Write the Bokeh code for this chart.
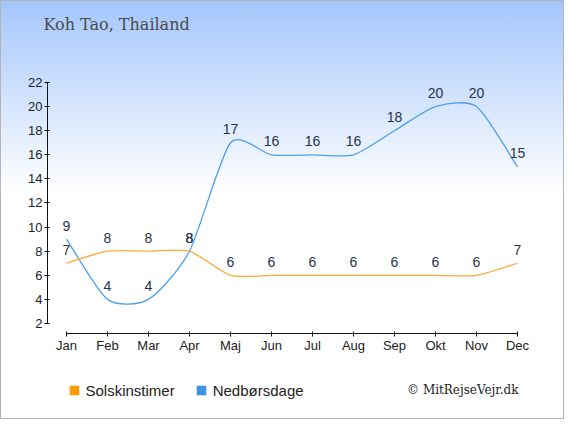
from bokeh.plotting import figure
from bokeh.models import FixedTicker, Label, Legend, LegendItem, ColumnDataSource
from bokeh.core.properties import value
from bokeh.embed import file_html
from bokeh.resources import INLINE

# ---- data ----
months = ["Jan", "Feb", "Mar", "Apr", "Maj", "Jun", "Jul", "Aug", "Sep", "Okt", "Nov", "Dec"]
sun_hours = [7, 8, 8, 8, 6, 6, 6, 6, 6, 6, 6, 7]
rain_days = [9, 4, 4, 8, 17, 16, 16, 16, 18, 20, 20, 15]
y_ticks = [2, 4, 6, 8, 10, 12, 14, 16, 18, 20, 22]
title_text = "Koh Tao, Thailand"
series_names = ["Solskinstimer", "Nedbørsdage"]
credit_text = "© MitRejseVejr.dk"

# ---- styles ----
SUN_LINE = "#ffa92e"
RAIN_LINE = "#4a9ff0"
SUN_BOX = "#ff9c00"
RAIN_BOX = "#3a95e6"
LABEL_COLOR = "#27334d"
SANS = "Liberation Sans"
SERIF = "DejaVu Serif"

xs = list(range(len(months)))

# frame covers the whole canvas; axes are pinned inside it
X0, X1 = -1.6098, 12.1463
Y0, Y1 = -5.967, 28.805
p = figure(width=564, height=419, output_backend="svg", toolbar_location=None,
           x_range=(X0, X1), y_range=(Y0, Y1), min_border=0)
p.border_fill_color = None
p.background_fill_color = None
p.outline_line_color = None
p.grid.visible = False
p.styles = {
    "background": "linear-gradient(to bottom, #a4c6fc 0%, #ffffff 46%, #ffffff 100%)",
    "outline": "1px solid #b4b4b4",
    "outline-offset": "-1px",
}

for ax in (p.xaxis[0], p.yaxis[0]):
    ax.axis_line_color = "#111111"
    ax.major_tick_line_color = "#111111"
    ax.minor_tick_line_color = None
    ax.major_tick_in = 2
    ax.major_tick_out = 3
    ax.major_label_standoff = 2
    ax.major_label_text_font = SANS
    ax.major_label_text_font_size = "13px"
    ax.major_label_text_color = "#222222"
p.xaxis.ticker = FixedTicker(ticks=xs)
p.xaxis.major_label_overrides = {i: m for i, m in enumerate(months)}
p.xaxis.bounds = (xs[0], xs[-1])
p.xaxis.fixed_location = 1.17
p.yaxis.ticker = FixedTicker(ticks=y_ticks)
p.yaxis.bounds = (y_ticks[0], y_ticks[-1])
p.yaxis.fixed_location = -0.463


def smooth(xv, yv, c=0.35):
    n = len(xv)
    out = dict(x0=[], y0=[], x1=[], y1=[], cx0=[], cy0=[], cx1=[], cy1=[])
    for i in range(n - 1):
        ip, inn = max(i - 1, 0), min(i + 2, n - 1)
        out["x0"].append(xv[i]); out["y0"].append(yv[i])
        out["x1"].append(xv[i + 1]); out["y1"].append(yv[i + 1])
        out["cx0"].append(xv[i] + c / 3 * (xv[i + 1] - xv[ip]))
        out["cy0"].append(yv[i] + c / 3 * (yv[i + 1] - yv[ip]))
        out["cx1"].append(xv[i + 1] - c / 3 * (xv[inn] - xv[i]))
        out["cy1"].append(yv[i + 1] - c / 3 * (yv[inn] - yv[i]))
    return ColumnDataSource(out)


p.bezier(x0="x0", y0="y0", x1="x1", y1="y1", cx0="cx0", cy0="cy0", cx1="cx1", cy1="cy1",
         source=smooth(xs, rain_days), line_color=RAIN_LINE, line_width=1.3)
p.bezier(x0="x0", y0="y0", x1="x1", y1="y1", cx0="cx0", cy0="cy0", cx1="cx1", cy1="cy1",
         source=smooth(xs, sun_hours), line_color=SUN_LINE, line_width=1.3)

for vals in (sun_hours, rain_days):
    p.text(x=xs, y=vals, text=[str(v) for v in vals], text_align="center",
           text_baseline="middle", y_offset=-13.5, text_font=value(SANS),
           text_font_size="14px", text_color=LABEL_COLOR)

# legend swatches: renderers with no visible geometry, used only for the legend
nan = float("nan")
r_sun = p.quad(left=[nan], right=[nan], top=[nan], bottom=[nan],
               fill_color=SUN_BOX, line_color=None)
r_rain = p.quad(left=[nan], right=[nan], top=[nan], bottom=[nan],
                fill_color=RAIN_BOX, line_color=None)
legend = Legend(items=[LegendItem(label=series_names[0], renderers=[r_sun]),
                       LegendItem(label=series_names[1], renderers=[r_rain])],
                orientation="horizontal", location=(67.5, 20),
                glyph_width=12, glyph_height=12, label_standoff=6, spacing=20,
                padding=0, margin=0, border_line_color=None, background_fill_alpha=0,
                label_text_font=SANS, label_text_font_size="15px",
                label_text_color="#222222", label_height=18)
p.add_layout(legend)

p.add_layout(Label(x=-0.56, y=26.81, text=title_text, text_font=SERIF,
                   text_font_size="16px", text_color="#4a4a4a",
                   text_align="left", text_baseline="middle"))
p.add_layout(Label(x=11.025, y=-3.56, text=credit_text, text_font=SERIF,
                   text_font_size="12px", text_color="#222222",
                   text_align="right", text_baseline="middle"))

open("out.html", "w").write(file_html(p, INLINE))
